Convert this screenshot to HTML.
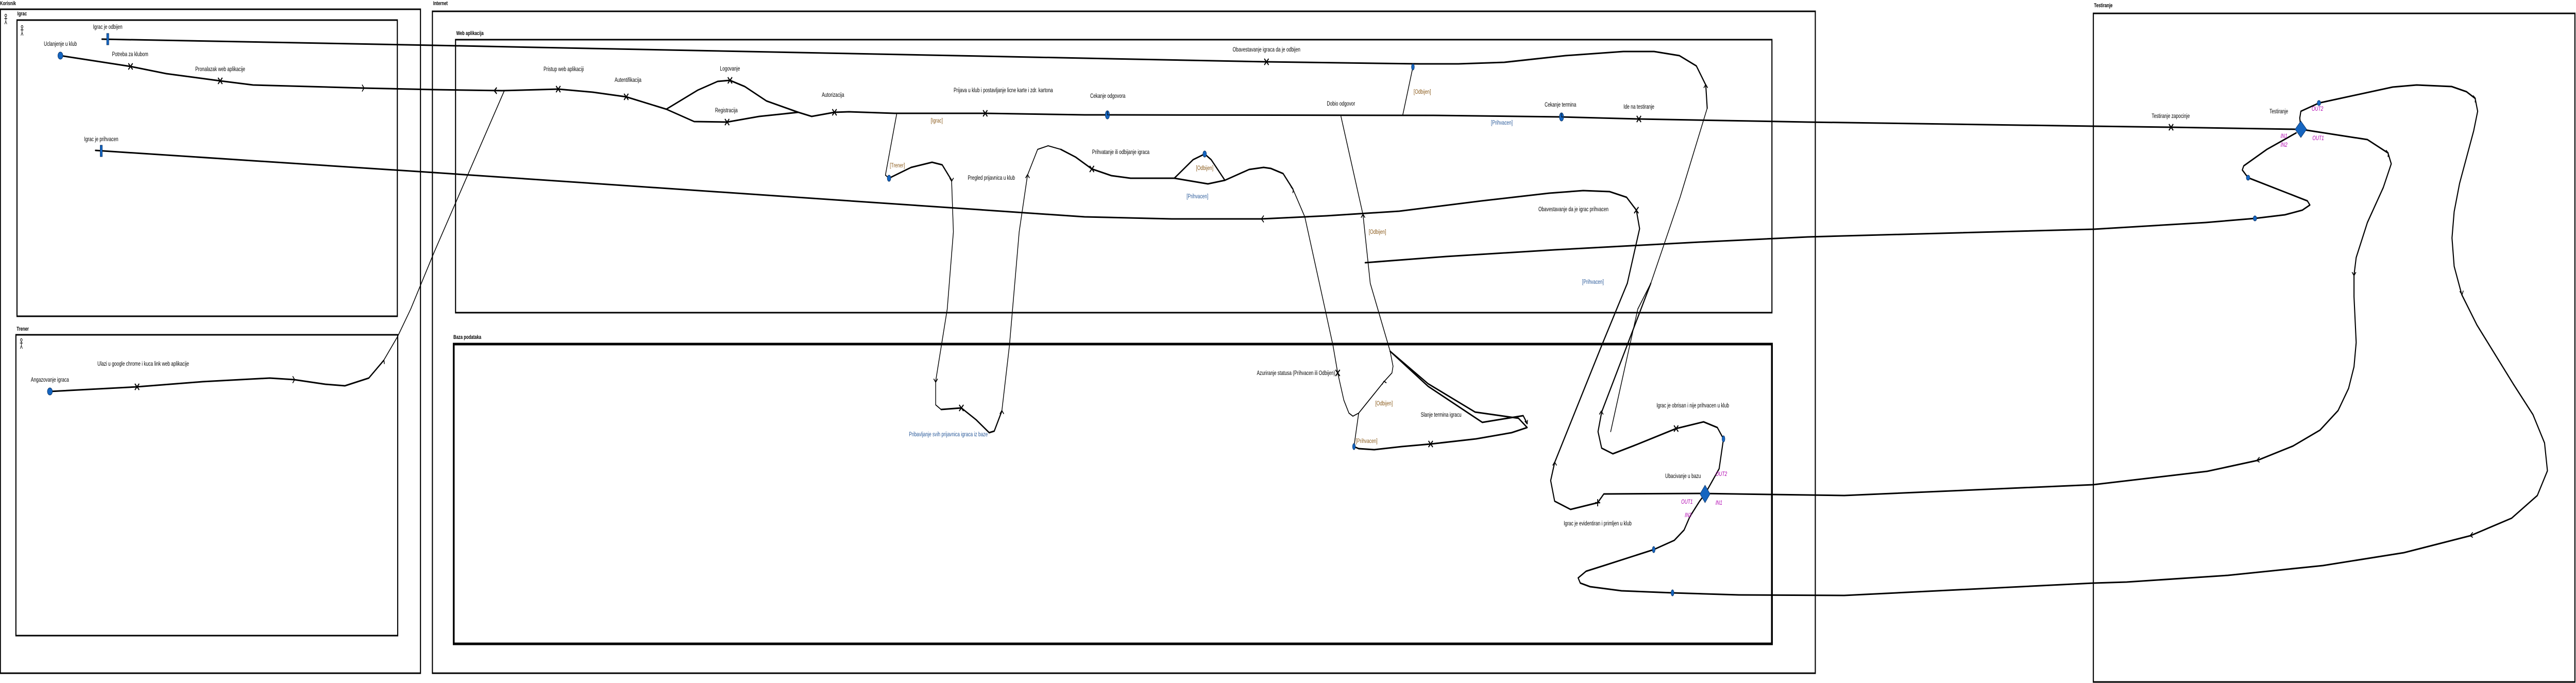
<!DOCTYPE html>
<html><head><meta charset="utf-8"><style>
html,body{margin:0;padding:0;background:#fff;width:100%;height:100%;overflow:hidden;}
svg{display:block;position:fixed;left:0;top:0;width:100vw;height:100vh;}
text{font-family:"Liberation Sans",sans-serif;font-size:12px;fill:#000;}
.t{font-weight:bold;font-size:11px;}
.g{fill:#8a5a1a;}
.gb{fill:#2a5a9a;}
.m{fill:#b000b0;font-style:italic;}
.l{fill:none;stroke:#000;stroke-width:3;stroke-linejoin:round;stroke-linecap:round;}
.n{fill:none;stroke:#000;stroke-width:2;stroke-linejoin:round;stroke-linecap:round;}
.x{stroke:#000;stroke-width:2.5;}
.d{fill:#1565c0;stroke:#0a3060;stroke-width:1;}
</style></head><body>
<svg viewBox="0 0 7125 1326" preserveAspectRatio="none" xmlns="http://www.w3.org/2000/svg">
<!-- containers -->
<text x="0" y="10" class="t">Korisnik</text>
<rect x="1" y="18" width="1162" height="1289" fill="none" stroke="#000" stroke-width="3"/>
<text x="48" y="30" class="t">Igrac</text>
<rect x="47" y="39" width="1052" height="575" fill="none" stroke="#000" stroke-width="3"/>
<text x="46" y="642" class="t">Trener</text>
<rect x="44" y="650" width="1056" height="584" fill="none" stroke="#000" stroke-width="3"/>
<text x="1198" y="10" class="t">Internet</text>
<rect x="1196" y="22" width="3825" height="1285" fill="none" stroke="#000" stroke-width="3"/>
<text x="1262" y="68" class="t">Web aplikacija</text>
<rect x="1260" y="77" width="3641" height="530" fill="none" stroke="#000" stroke-width="3"/>
<text x="1254" y="658" class="t">Baza podataka</text>
<rect x="1255" y="668" width="3646" height="582" fill="none" stroke="#000" stroke-width="5"/>
<text x="5792" y="14" class="t">Testiranje</text>
<rect x="5790" y="26" width="1332" height="1298" fill="none" stroke="#000" stroke-width="3"/>

<!-- actor icons -->
<g stroke="#000" stroke-width="1.2" fill="none">
<circle cx="16" cy="30" r="2.5"/><path d="M16 33v8M12 36h8M16 41l-3 6M16 41l3 6"/>
<circle cx="61" cy="52" r="2.5"/><path d="M61 55v8M57 58h8M61 63l-3 6M61 63l3 6"/>
<circle cx="59" cy="660" r="2.5"/><path d="M59 663v8M55 666h8M59 671l-3 6M59 671l3 6"/>
</g>

<!-- Igrac main flow -->
<path class="l" d="M167 108 L361 129 L460 143 L609 157 L700 165 L1005 171 L1200 174 L1389 176 L1544 173 L1640 179 L1732 188 L1843 212 L1920 236 L2011 237 L2100 226 L2208 218 L2245 226 L2308 218 L2348 217 L2474 220 L2725 220 L3000 223 L3063 223 L3964 224 L4205 226 L4319 227 L4533 231 L5000 237 L5790 245 L6005 247 L6351 251"/>
<path class="l" d="M1843 212 L1930 175 L1985 158 L2019 156 L2060 168 L2120 196 L2208 218"/>
<path class="l" d="M282 76 L1200 88 L3000 113 L3503 120 L3924 124 L4034 124 L4160 121 L4330 108 L4490 100 L4575 100 L4645 108 L4692 128 L4718 165 L4722 210"/>
<path class="l" d="M264 292 L1200 335 L3000 421 L3241 425 L3489 425 L3669 419 L3870 410 L4098 390 L4285 375 L4379 370 L4452 372 L4499 383 L4526 408 L4535 444 L4501 550"/>

<!-- Trener flow -->
<path class="l" d="M138 760 L379 751 L560 741 L746 734 L813 737 L900 746 L954 749 L1020 734 L1061 700"/>
<path class="n" d="M1061 700 L1100 653 L1136 600 L1200 491 L1395 176"/>

<!-- Trener branch in web app -->
<path class="n" d="M2480 222 L2449 340 L2459 346"/>
<path class="l" d="M2459 346 L2520 325 L2578 315 L2606 320 L2632 350"/>
<path class="n" d="M2632 350 L2637 450 L2620 600 L2588 740 L2588 786 L2603 795"/>
<path class="l" d="M2603 795 L2659 792 L2700 815 L2736 840 L2750 837 L2771 798"/>
<path class="n" d="M2771 798 L2792 671 L2819 450 L2842 340 L2870 290 L2899 283 L2934 290"/>
<path class="l" d="M2934 290 L2975 305 L3020 328 L3074 341 L3127 346 L3248 346 L3341 357 L3388 350 L3455 329 L3495 325 L3515 327 L3549 337 L3576 367"/>
<path class="l" d="M3248 346 L3300 310 L3332 299 L3350 310 L3388 350"/>

<!-- verticals to Baza -->
<path class="n" d="M3576 367 L3609 421 L3665 600 L3687 671 L3700 724 L3717 777 L3731 802 L3742 808 L3758 802 L3828 741 L3850 724 L3853 711 L3845 682"/>
<path class="n" d="M3709 226 L3770 417 L3790 550 L3845 682"/>
<path class="n" d="M3908 130 L3880 223"/>
<path class="l" d="M3776 510 L4000 498 L4300 485 L4700 470 L5000 460 L5099 458 L5790 445 L6101 432 L6237 424 L6320 417 L6368 408 L6389 398 L6382 390 L6218 345 L6202 330 L6206 322 L6270 290 L6351 258"/>
<path class="l" d="M3845 682 L3950 750 L4100 820 L4213 807 L4224 822"/>
<path class="l" d="M3845 682 L3950 745 L4080 800 L4200 812 L4224 830 L4181 840 L4083 852 L3957 862 L3877 867 L3801 873 L3758 871 L3745 867"/>
<path class="n" d="M3745 867 L3758 802"/>

<!-- right vertical loops -->
<path class="n" d="M4722 210 L4647 383 L4566 550 L4530 600 L4455 838"/>
<path class="l" d="M4501 550 L4430 671 L4300 898 L4289 933 L4300 973 L4344 989 L4419 976 L4436 959 L4701 958 L5101 962 L5790 941 L6105 915 L6243 894 L6342 866 L6417 835 L6467 797 L6496 754 L6511 712 L6517 665 L6511 576 L6511 534 L6517 500 L6548 432 L6592 364 L6614 318 L6605 297 L6548 271 L6364 251"/>
<path class="l" d="M4566 550 L4430 800 L4420 838 L4430 870 L4461 881 L4520 865 L4636 832 L4712 819 L4750 830 L4767 852 L4755 910 L4716 959"/>
<path class="l" d="M4716 959 L4701 973 L4674 1003 L4658 1029 L4631 1049 L4574 1067 L4441 1097 L4387 1109 L4365 1122 L4371 1132 L4398 1139 L4485 1147 L4626 1151 L4810 1155 L5101 1156 L5790 1132 L5882 1130 L6162 1117 L6425 1098 L6649 1073 L6833 1040 L6947 1006 L7018 962 L7046 914 L7038 860 L7006 805 L6952 746 L6851 631 L6809 572 L6788 517 L6782 462 L6788 411 L6803 356 L6842 254 L6853 216 L6846 191 L6822 178 L6781 168 L6684 165 L6618 169 L6414 200 L6364 216 L6361 229 L6364 251"/>

<!-- x marks -->
<g class="x">
<path d="M355 123l12 12M367 123l-12 12"/><path d="M603 151l12 12M615 151l-12 12"/>
<path d="M373 745l12 12M385 745l-12 12"/>
<path d="M1538 167l12 12M1550 167l-12 12"/><path d="M1726 182l12 12M1738 182l-12 12"/>
<path d="M2013 150l12 12M2025 150l-12 12"/><path d="M2005 231l12 12M2017 231l-12 12"/>
<path d="M2302 212l12 12M2314 212l-12 12"/><path d="M2719 214l12 12M2731 214l-12 12"/>
<path d="M2653 786l12 12M2665 786l-12 12"/><path d="M3014 322l12 12M3026 322l-12 12"/>
<path d="M3497 114l12 12M3509 114l-12 12"/><path d="M4527 225l12 12M4539 225l-12 12"/>
<path d="M4520 402l12 12M4532 402l-12 12"/><path d="M3694 718l12 12M3706 718l-12 12"/>
<path d="M3951 856l12 12M3963 856l-12 12"/><path d="M4630 826l12 12M4642 826l-12 12"/>
<path d="M5999 241l12 12M6011 241l-12 12"/>
<path d="M1374 170l-7 6l7 6" fill="none"/>
<path d="M4419 969v14M4412 976h14"/>
</g>
<!-- arrow chevrons -->
<g class="n">
<path d="M1002 165l5 6l-5 6"/><path d="M810 731l5 6l-5 6"/><path d="M1056 704l6-5l1 7"/>
<path d="M2627 346l5 6l5-6"/><path d="M2583 736l5 6l5-6"/><path d="M2766 803l5-6l5 6"/>
<path d="M2837 345l5-6l5 6"/><path d="M3571 363l6 5l-1 6"/><path d="M3495 419l-6 6l6 6"/>
<path d="M3765 422l5-6l5 6"/><path d="M3823 746l5-6l6 3"/><path d="M4218 818l6 5l1-7"/>
<path d="M4713 170l5-6l5 6"/><path d="M4424 804l5-6l5 6"/><path d="M4295 903l5-6l5 6"/>
<path d="M6600 292l6 5l-1 7"/><path d="M6506 529l5 6l5-6"/><path d="M6249 888l-7 6l7 3"/>
<path d="M6841 186l6 5l-1 7"/><path d="M6804 566l6 6l3-7"/><path d="M6839 1034l-7 6l7 3"/>
</g>

<!-- nodes -->
<ellipse class="d" cx="167" cy="108" rx="7" ry="7"/>
<rect class="d" x="295" y="65" width="6" height="22"/>
<rect class="d" x="277" y="282" width="6" height="22"/>
<ellipse class="d" cx="138" cy="760" rx="7" ry="7"/>
<ellipse class="d" cx="2459" cy="346" rx="5" ry="6"/>
<ellipse class="d" cx="3332" cy="299" rx="5" ry="6"/>
<ellipse class="d" cx="3908" cy="130" rx="4" ry="6"/>
<ellipse class="d" cx="3745" cy="867" rx="4" ry="6"/>
<ellipse class="d" cx="4767" cy="852" rx="4" ry="6"/>
<ellipse class="d" cx="4574" cy="1067" rx="4" ry="6"/>
<ellipse class="d" cx="4626" cy="1151" rx="4" ry="6"/>
<ellipse class="d" cx="6414" cy="200" rx="5" ry="5"/>
<ellipse class="d" cx="6218" cy="345" rx="5" ry="5"/>
<ellipse class="d" cx="6237" cy="424" rx="5" ry="5"/>
<g><ellipse class="d" cx="3063" cy="223" rx="6" ry="8"/><path d="M3063 216v7h5" stroke="#000" stroke-width="1.2" fill="none"/></g>
<g><ellipse class="d" cx="4319" cy="227" rx="6" ry="8"/><path d="M4319 220v7h5" stroke="#000" stroke-width="1.2" fill="none"/></g>
<path class="d" d="M4716 942 L4730 959 L4716 976 L4702 959 Z"/>
<path class="d" d="M6364 235 L6380 251 L6364 267 L6348 251 Z"/>

<!-- labels -->
<g text-anchor="middle">
<text x="298" y="56">Igrac je odbijen</text>
<text x="167" y="89">Uclanjenje u klub</text>
<text x="360" y="109">Potreba za klubom</text>
<text x="609" y="138">Pronalazak web aplikacije</text>
<text x="280" y="274">Igrac je prihvacen</text>
<text x="138" y="741">Angazovanje igraca</text>
<text x="396" y="710">Ulazi u google chrome i kuca link web aplikacije</text>
<text x="1559" y="138">Pristup web aplikaciji</text>
<text x="1737" y="159">Autentifikacija</text>
<text x="2019" y="137">Logovanje</text>
<text x="2009" y="218">Registracija</text>
<text x="2304" y="188">Autorizacija</text>
<text x="2591" y="238" class="g">[Igrac]</text>
<text x="2775" y="179">Prijava u klub i postavljanje licne karte i zdr. kartona</text>
<text x="2482" y="325" class="g">[Trener]</text>
<text x="2742" y="349">Pregled prijavnica u klub</text>
<text x="3100" y="299">Prihvatanje ili odbijanje igraca</text>
<text x="3332" y="330" class="g">[Odbijen]</text>
<text x="3312" y="385" class="gb">[Prihvacen]</text>
<text x="3064" y="190">Cekanje odgovora</text>
<text x="3503" y="100">Obavestavanje igraca da je odbijen</text>
<text x="3709" y="205">Dobio odgovor</text>
<text x="3934" y="182" class="g">[Odbijen]</text>
<text x="4154" y="242" class="gb">[Prihvacen]</text>
<text x="4316" y="207">Cekanje termina</text>
<text x="4533" y="211">Ide na testiranje</text>
<text x="4352" y="410">Obavestavanje da je igrac prihvacen</text>
<text x="3810" y="454" class="g">[Odbijen]</text>
<text x="4406" y="551" class="gb">[Prihvacen]</text>
<text x="2623" y="847" class="gb">Pribavljanje svih prijavnica igraca iz baze</text>
<text x="3828" y="787" class="g">[Odbijen]</text>
<text x="3780" y="860" class="g">[Prihvacen]</text>
<text x="3986" y="809">Slanje termina igracu</text>
<text x="4682" y="791">Igrac je obrisan i nije prihvacen u klub</text>
<text x="4655" y="928">Ubacivanje u bazu</text>
<text x="4419" y="1020">Igrac je evidentiran i primljen u klub</text>
<text x="6004" y="229">Testiranje zapocinje</text>
<text x="6303" y="220">Testiranje</text>
</g>
<text x="3693" y="728" text-anchor="end">Azuriranje statusa (Prihvacen ili Odbijen)</text>
<g font-size="11">
<text x="4745" y="924" class="m">OUT2</text>
<text x="4650" y="978" class="m">OUT1</text>
<text x="4745" y="980" class="m">IN1</text>
<text x="4660" y="1004" class="m">IN2</text>
<text x="6394" y="215" class="m">OUT2</text>
<text x="6308" y="268" class="m">IN1</text>
<text x="6308" y="285" class="m">IN2</text>
<text x="6396" y="272" class="m">OUT1</text>
</g>
</svg>
</body></html>
